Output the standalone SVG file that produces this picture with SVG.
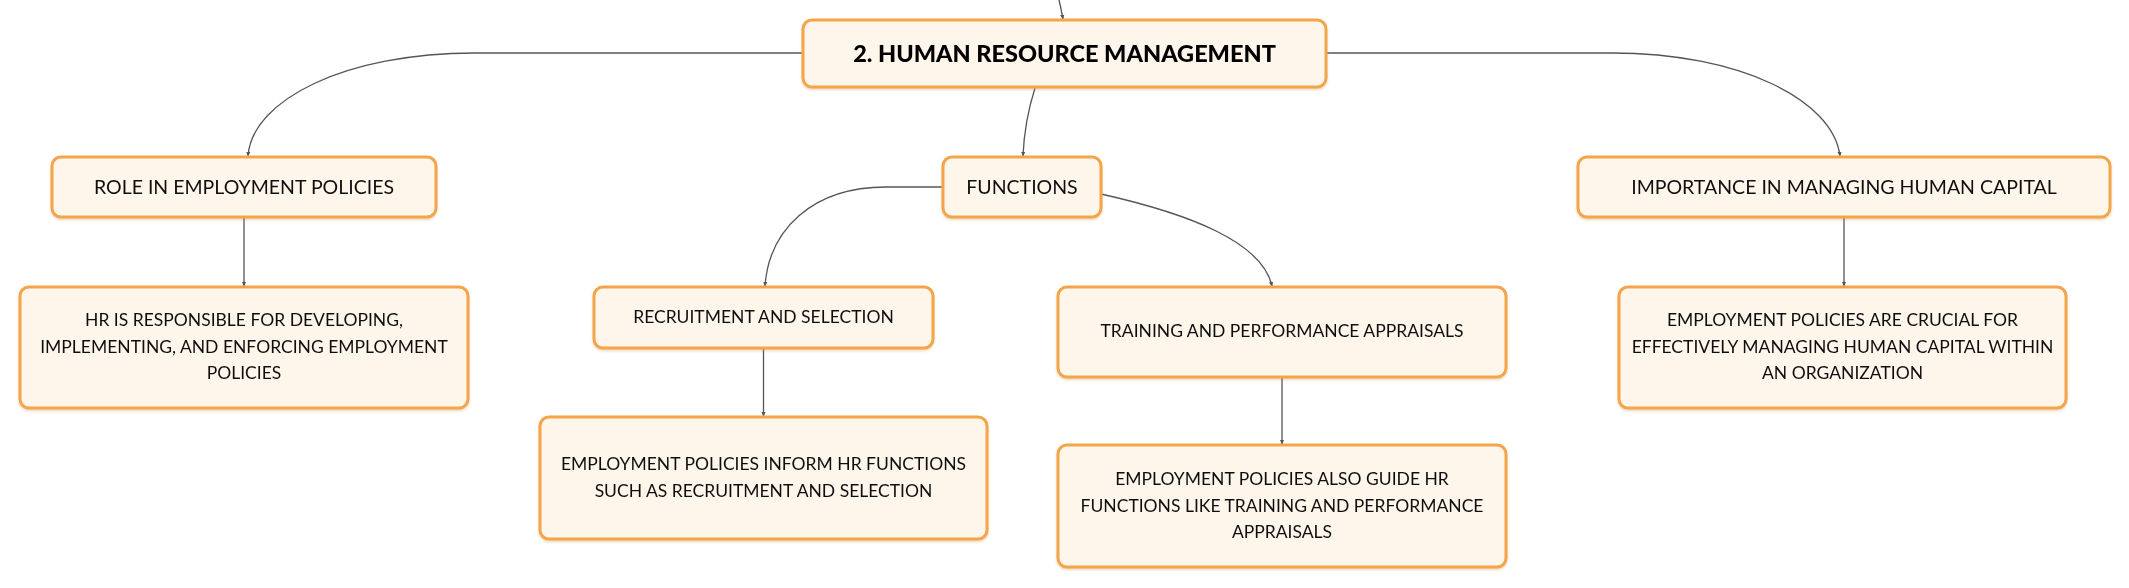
<svg xmlns="http://www.w3.org/2000/svg" width="2129" height="588" viewBox="0 0 2129 588">
<defs>
<style>
.box{fill:#FEF5EB;stroke:#F5A54A;stroke-width:3;}
.t{font-family:Lato,"Noto Sans","DejaVu Sans",sans-serif;font-size:17.5px;fill:#111;text-anchor:middle;}
.t2{font-family:Lato,"Noto Sans","DejaVu Sans",sans-serif;font-size:19.5px;fill:#111;text-anchor:middle;}
.tb{font-family:Lato,"Noto Sans","DejaVu Sans",sans-serif;font-size:23.5px;font-weight:900;fill:#000;text-anchor:middle;}
.c{fill:none;stroke:#555;stroke-width:1.3;}
</style>
<marker id="ah" viewBox="0 0 6 6" refX="5" refY="3" markerWidth="5" markerHeight="5" orient="auto" markerUnits="userSpaceOnUse">
<path d="M0,0.5 L6,3 L0,5.5 z" fill="#555"/>
</marker>
<filter id="sh" x="-5%" y="-10%" width="110%" height="130%">
<feDropShadow dx="0" dy="1.5" stdDeviation="1" flood-color="#C88A3A" flood-opacity="0.35"/>
</filter>
</defs>
<rect width="2129" height="588" fill="#fff"/>
<g id="connectors">
<path class="c" d="M1059,0 C1061,8 1062,14 1063,19" marker-end="url(#ah)"/>
<path class="c" d="M803,53 L475,53 C345,53 252,100 248,156" marker-end="url(#ah)"/>
<path class="c" d="M1326,53 L1612,53 C1740,53 1833,100 1840,156" marker-end="url(#ah)"/>
<path class="c" d="M1035,88 C1028,110 1024,132 1023,156" marker-end="url(#ah)"/>
<path class="c" d="M244,217 L244,286" marker-end="url(#ah)"/>
<path class="c" d="M943,187 L886,187 C812,187 769,230 765,286" marker-end="url(#ah)"/>
<path class="c" d="M1101,194 C1190,214 1262,242 1272,286" marker-end="url(#ah)"/>
<path class="c" d="M763.5,348 L763.5,416" marker-end="url(#ah)"/>
<path class="c" d="M1282,377 L1282,444" marker-end="url(#ah)"/>
<path class="c" d="M1844,217 L1844,286" marker-end="url(#ah)"/>
</g>
<g id="main" filter="url(#sh)">
<rect class="box" x="803" y="20" width="523" height="67" rx="9"/>
<text class="tb" x="1064.5" y="62">2. HUMAN RESOURCE MANAGEMENT</text>
</g>
<g id="role" filter="url(#sh)">
<rect class="box" x="52" y="157" width="384" height="60" rx="9"/>
<text class="t2" x="244" y="194">ROLE IN EMPLOYMENT POLICIES</text>
</g>
<g id="functions" filter="url(#sh)">
<rect class="box" x="943" y="157" width="158" height="60" rx="9"/>
<text class="t2" x="1022" y="194">FUNCTIONS</text>
</g>
<g id="importance" filter="url(#sh)">
<rect class="box" x="1578" y="157" width="532" height="60" rx="9"/>
<text class="t2" x="1844" y="194">IMPORTANCE IN MANAGING HUMAN CAPITAL</text>
</g>
<g id="hr" filter="url(#sh)">
<rect class="box" x="20" y="287" width="448" height="121" rx="9"/>
<text class="t" x="244" y="326">HR IS RESPONSIBLE FOR DEVELOPING,</text>
<text class="t" x="244" y="352.5">IMPLEMENTING, AND ENFORCING EMPLOYMENT</text>
<text class="t" x="244" y="379">POLICIES</text>
</g>
<g id="recruitment" filter="url(#sh)">
<rect class="box" x="594" y="287" width="339" height="61" rx="9"/>
<text class="t" x="763.5" y="323">RECRUITMENT AND SELECTION</text>
</g>
<g id="inform" filter="url(#sh)">
<rect class="box" x="540" y="417" width="447" height="122" rx="9"/>
<text class="t" x="763.5" y="469.5">EMPLOYMENT POLICIES INFORM HR FUNCTIONS</text>
<text class="t" x="763.5" y="496.5">SUCH AS RECRUITMENT AND SELECTION</text>
</g>
<g id="training" filter="url(#sh)">
<rect class="box" x="1058" y="287" width="448" height="90" rx="9"/>
<text class="t" x="1282" y="337">TRAINING AND PERFORMANCE APPRAISALS</text>
</g>
<g id="guide" filter="url(#sh)">
<rect class="box" x="1058" y="445" width="448" height="122" rx="9"/>
<text class="t" x="1282" y="485">EMPLOYMENT POLICIES ALSO GUIDE HR</text>
<text class="t" x="1282" y="511.5">FUNCTIONS LIKE TRAINING AND PERFORMANCE</text>
<text class="t" x="1282" y="538">APPRAISALS</text>
</g>
<g id="crucial" filter="url(#sh)">
<rect class="box" x="1619" y="287" width="447" height="121" rx="9"/>
<text class="t" x="1842.5" y="326">EMPLOYMENT POLICIES ARE CRUCIAL FOR</text>
<text class="t" x="1842.5" y="352.5">EFFECTIVELY MANAGING HUMAN CAPITAL WITHIN</text>
<text class="t" x="1842.5" y="379">AN ORGANIZATION</text>
</g>
</svg>
